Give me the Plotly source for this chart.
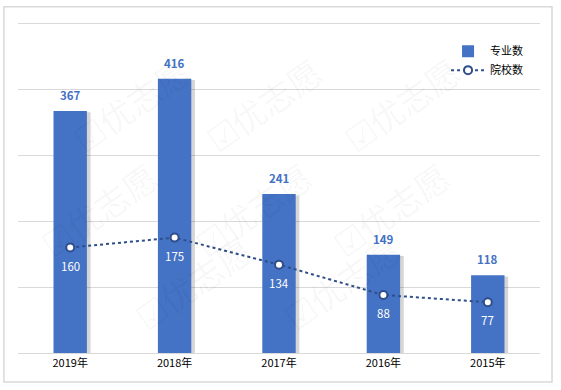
import plotly.graph_objects as go

years = ["2019年", "2018年", "2017年", "2016年", "2015年"]
majors = [367, 416, 241, 149, 118]
schools = [160, 175, 134, 88, 77]

FONT = "Noto Sans CJK SC, Liberation Sans, sans-serif"
BLUE = "#4472C4"
DARK = "#2F4E8C"

fig = go.Figure()

# soft shadow to the right of each bar
fig.add_trace(go.Bar(
    x=years, y=[v - 2 for v in majors], width=0.32, offset=-0.125,
    marker=dict(color="rgba(0,0,0,0.16)", line=dict(width=0)),
    showlegend=False, hoverinfo="skip"))

fig.add_trace(go.Bar(
    x=years, y=majors, name="专业数", width=0.32, offset=-0.16,
    marker=dict(color=BLUE, line=dict(width=0))))

fig.add_trace(go.Scatter(
    x=years, y=schools, name="院校数", mode="lines+markers",
    line=dict(color=DARK, width=2, dash="dot"),
    marker=dict(size=8, color="white", line=dict(color=DARK, width=2))))

# value labels
for xv, v in zip(years, majors):
    fig.add_annotation(x=xv, y=v, text=str(v), showarrow=False, yshift=16,
                       font=dict(color=BLUE, size=11.5, family=FONT, weight="bold"))
for xv, v in zip(years, schools):
    fig.add_annotation(x=xv, y=v, text=str(v), showarrow=False, yshift=-18,
                       font=dict(color="white", size=11.5, family=FONT))

# faint watermark
wm = [(0.08, 0.93), (0.47, 0.93), (0.87, 0.93), (0.02, 0.43), (0.45, 0.43), (0.85, 0.43), (0.20, 0.03), (0.62, 0.03)]
for (px, py) in wm:
    fig.add_annotation(x=px, y=py, xref="paper", yref="paper", text="☑优志愿",
                       showarrow=False, textangle=-35,
                       font=dict(size=34, color="rgba(0,0,0,0.04)", family=FONT))

fig.add_shape(type="rect", xref="paper", yref="paper",
              x0=-0.027, x1=1.023, y0=-0.087, y1=1.04,
              line=dict(color="#d9d9d9", width=1.5), layer="below")

fig.update_layout(
    width=561, height=390,
    margin=dict(l=18, r=21, t=20, b=37, autoexpand=False),
    paper_bgcolor="white", plot_bgcolor="white",
    barmode="overlay", bargap=0.68,
    font=dict(family=FONT, size=11, color="#000000"),
    showlegend=True,
    legend=dict(x=0.82, y=0.95, xanchor="left", yanchor="top",
                bgcolor="rgba(0,0,0,0)", font=dict(size=11, color="#000"),
                tracegroupgap=2, itemwidth=34),
    xaxis=dict(showgrid=False, showline=True, linecolor="#d9d9d9", linewidth=1,
               ticks="", tickfont=dict(size=11, color="#000"), fixedrange=True),
    yaxis=dict(range=[0, 505], tickvals=[100, 200, 300, 400, 500], showgrid=True,
               gridcolor="#d9d9d9", gridwidth=1, showticklabels=False,
               zeroline=False, fixedrange=True),
)

fig.write_html("out.html", config={"displayModeBar": False},
               post_script="document.body.style.margin='0';document.body.style.overflow='hidden';")
